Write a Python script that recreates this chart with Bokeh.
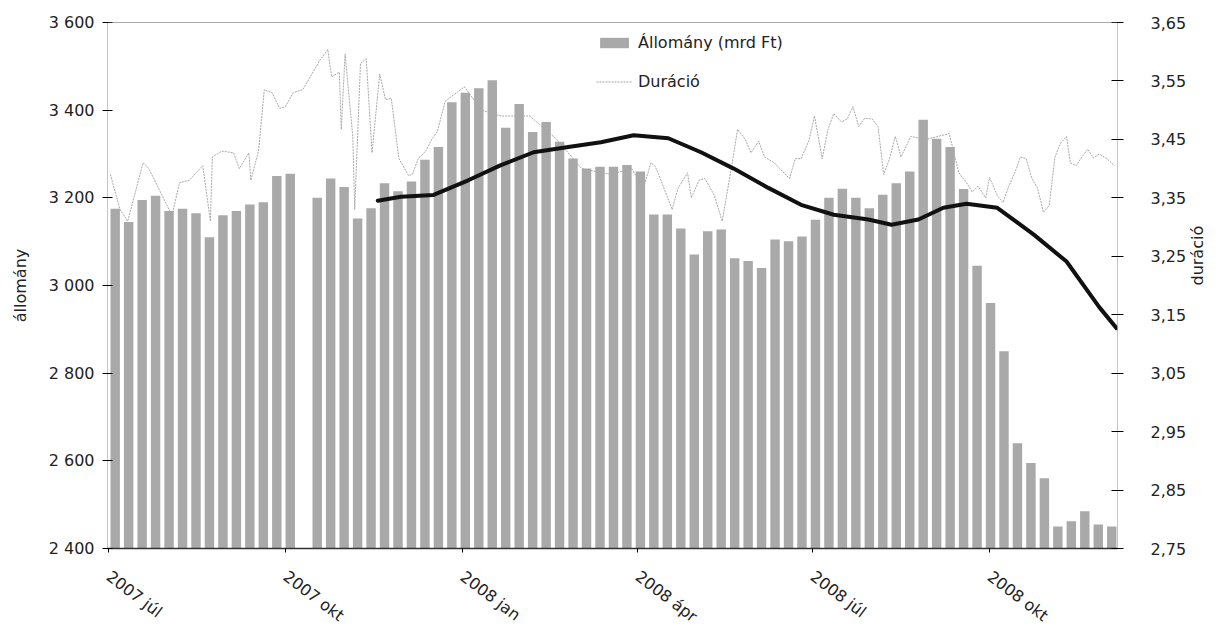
import math
import pandas as pd
from bokeh.plotting import figure
from bokeh.models import (Range1d, LinearAxis, FixedTicker, Legend, LegendItem,
                          ColumnDataSource, Span)
from bokeh.embed import file_html
from bokeh.resources import INLINE

# ---------------- data ----------------
origin = pd.Timestamp("2007-07-01")

week_first_day = "2007-07-02"      # Monday of the first weekly block
n_weeks = 75
allomany = [3175, 3145, 3195, 3205, 3170, 3175, 3165, 3110, 3160, 3170,
            3185, 3190, 3250, 3255, None, 3200, 3244, 3225, 3153, 3176,
            3233, 3215, 3237, 3287, 3316, 3418, 3440, 3450, 3468, 3360,
            3414, 3350, 3373, 3328, 3290, 3267, 3271, 3271, 3275, 3260,
            3162, 3162, 3130, 3071, 3124, 3128, 3062, 3056, 3040, 3105,
            3101, 3112, 3150, 3200, 3221, 3200, 3176, 3207, 3233, 3260,
            3378, 3335, 3316, 3220, 3045, 2960, 2850, 2640, 2595, 2560,
            2450, 2462, 2485, 2455, 2450]

dur_dates = ["2007-07-02", "2007-07-07", "2007-07-11", "2007-07-15", "2007-07-19",
             "2007-07-22", "2007-07-28", "2007-08-03", "2007-08-07", "2007-08-12",
             "2007-08-19", "2007-08-23", "2007-08-24", "2007-08-29", "2007-09-04",
             "2007-09-07", "2007-09-12", "2007-09-13", "2007-09-17", "2007-09-20",
             "2007-09-24", "2007-09-28", "2007-10-01", "2007-10-05", "2007-10-10",
             "2007-10-19", "2007-10-23", "2007-10-25", "2007-10-29", "2007-10-30",
             "2007-11-01", "2007-11-05", "2007-11-06", "2007-11-09", "2007-11-12",
             "2007-11-15", "2007-11-19", "2007-11-22", "2007-11-25", "2007-11-29",
             "2007-12-04", "2007-12-06", "2007-12-09", "2007-12-13", "2007-12-16",
             "2007-12-19", "2007-12-23", "2008-01-02", "2008-01-11", "2008-01-21",
             "2008-02-05", "2008-02-19", "2008-03-03", "2008-03-18", "2008-03-29",
             "2008-04-04", "2008-04-08", "2008-04-10", "2008-04-12", "2008-04-19",
             "2008-04-22", "2008-04-27", "2008-04-29", "2008-05-03", "2008-05-06",
             "2008-05-11", "2008-05-15", "2008-05-20", "2008-05-23", "2008-05-27",
             "2008-05-30", "2008-06-03", "2008-06-06", "2008-06-11", "2008-06-14",
             "2008-06-19", "2008-06-22", "2008-06-25", "2008-06-29", "2008-07-02",
             "2008-07-06", "2008-07-09", "2008-07-12", "2008-07-16", "2008-07-19",
             "2008-07-22", "2008-07-25", "2008-07-28", "2008-08-01", "2008-08-04",
             "2008-08-07", "2008-08-10", "2008-08-13", "2008-08-16", "2008-08-21",
             "2008-08-29", "2008-09-10", "2008-09-15", "2008-09-19", "2008-09-22",
             "2008-09-25", "2008-09-29", "2008-10-01", "2008-10-05", "2008-10-08",
             "2008-10-11", "2008-10-15", "2008-10-17", "2008-10-20", "2008-10-23",
             "2008-10-26", "2008-10-29", "2008-11-01", "2008-11-04", "2008-11-07",
             "2008-11-10", "2008-11-12", "2008-11-15", "2008-11-18", "2008-11-21",
             "2008-11-24", "2008-11-27", "2008-12-01", "2008-12-05"]
dur_vals = [3.39, 3.33, 3.31, 3.36, 3.41,
            3.40, 3.36, 3.32, 3.376, 3.38,
            3.405, 3.31, 3.42, 3.43, 3.427,
            3.40, 3.427, 3.38, 3.43, 3.535,
            3.53, 3.503, 3.506, 3.53, 3.535,
            3.586, 3.604, 3.557, 3.565, 3.467,
            3.596, 3.455, 3.33, 3.58, 3.588,
            3.427, 3.562, 3.518, 3.52, 3.417,
            3.388, 3.39, 3.417, 3.43, 3.45,
            3.464, 3.515, 3.54, 3.50, 3.49,
            3.49, 3.45, 3.40, 3.39, 3.40,
            3.366, 3.41, 3.405, 3.39, 3.33,
            3.366, 3.393, 3.35, 3.38, 3.383,
            3.354, 3.31, 3.405, 3.467, 3.45,
            3.427, 3.447, 3.42, 3.41, 3.40,
            3.383, 3.417, 3.417, 3.447, 3.49,
            3.417, 3.467, 3.494, 3.48, 3.485,
            3.506, 3.472, 3.486, 3.485, 3.472,
            3.39, 3.417, 3.455, 3.42, 3.455,
            3.45, 3.46, 3.393, 3.376, 3.36,
            3.37, 3.35, 3.385, 3.354, 3.342,
            3.37, 3.40, 3.42, 3.417, 3.383,
            3.366, 3.325, 3.337, 3.42, 3.444,
            3.455, 3.41, 3.405, 3.42, 3.433,
            3.418, 3.425, 3.417, 3.405]

trend_dates = ["2007-11-18", "2007-11-30", "2007-12-17", "2008-01-04", "2008-01-21",
               "2008-02-07", "2008-02-25", "2008-03-13", "2008-03-30", "2008-04-17",
               "2008-05-04", "2008-05-21", "2008-06-08", "2008-06-25", "2008-07-12",
               "2008-07-30", "2008-08-11", "2008-08-25", "2008-09-07", "2008-09-19",
               "2008-10-05", "2008-10-24", "2008-11-10", "2008-11-27", "2008-12-06"]
trend_vals = [3.345, 3.352, 3.355, 3.38, 3.406,
              3.428, 3.437, 3.445, 3.457, 3.452,
              3.428, 3.40, 3.367, 3.338, 3.321,
              3.313, 3.304, 3.313, 3.333, 3.34,
              3.333, 3.287, 3.241, 3.163, 3.127]

x_tick_dates = ["2007-07-01", "2007-10-01", "2008-01-01", "2008-04-01",
                "2008-07-01", "2008-10-01"]
x_tick_labels = ["2007 júl", "2007 okt", "2008 jan", "2008 ápr", "2008 júl", "2008 okt"]
left_ticks = [2400, 2600, 2800, 3000, 3200, 3400, 3600]
left_labels = ["2 400", "2 600", "2 800", "3 000", "3 200", "3 400", "3 600"]
right_ticks = [2.75, 2.85, 2.95, 3.05, 3.15, 3.25, 3.35, 3.45, 3.55, 3.65]
right_labels = ["2,75", "2,85", "2,95", "3,05", "3,15", "3,25", "3,35", "3,45", "3,55", "3,65"]
left_title = "állomány"
right_title = "duráció"

# ---------------- helpers ----------------
def days(d):
    return (pd.to_datetime(d) - origin) / pd.Timedelta(days=1)

weeks = pd.date_range(week_first_day, periods=n_weeks, freq="7D")
bar_x, bar_top = [], []
for w, v in zip(weeks, allomany):
    if v is not None:
        bar_x.append(days(w) + 2.5)
        bar_top.append(v)
bars_src = ColumnDataSource(dict(x=bar_x, top=bar_top))
dur_src = ColumnDataSource(dict(x=list(days(dur_dates)), y=dur_vals))
trend_src = ColumnDataSource(dict(x=list(days(trend_dates)), y=trend_vals))

FONT = "DejaVu Sans"
TXT = "#222222"

W, H = 1219, 636
FL, FT, FR, FB = 107, 22, 1121, 553      # frame edges on the page
p = figure(width=W, height=H, output_backend="svg", toolbar_location=None,
           x_range=Range1d(-0.5, 524.5), y_range=Range1d(2400, 3600),
           min_border_left=FL, min_border_right=W - FR, min_border_top=FT,
           min_border_bottom=H - FB)
p.extra_y_ranges = {"dur": Range1d(2.75, 3.65)}
p.xgrid.visible = False
p.ygrid.visible = False
p.outline_line_color = None
p.background_fill_color = "white"
p.border_fill_color = "white"

bars = p.vbar(x="x", top="top", bottom=2400, width=4.9, source=bars_src,
              fill_color="#a9a9a9", line_color=None)
dur = p.line("x", "y", source=dur_src, y_range_name="dur",
             line_color="#a8a8a8", line_width=1, line_dash="2 1")
p.line("x", "y", source=trend_src, y_range_name="dur",
       line_color="#111111", line_width=4, line_join="round", line_cap="round")

p.add_layout(Span(location=3600, dimension="width", line_color="#555555", line_width=1.2))

# x axis
xa = p.xaxis[0]
xt = [int(v) for v in days(x_tick_dates)]
xa.ticker = FixedTicker(ticks=xt)
xa.major_label_overrides = {t: l for t, l in zip(xt, x_tick_labels)}
xa.major_label_orientation = -0.65
xa.minor_tick_line_color = None
xa.major_tick_in = 0
xa.major_tick_out = 4
xa.axis_line_color = "#333333"
xa.axis_line_width = 1.5
xa.major_label_text_font = FONT
xa.major_label_text_font_size = "16px"
xa.major_label_text_color = TXT
xa.major_label_standoff = 22

# left axis
ya = p.yaxis[0]
ya.ticker = FixedTicker(ticks=left_ticks)
ya.major_label_overrides = {t: l for t, l in zip(left_ticks, left_labels)}
ya.minor_tick_line_color = None
ya.major_tick_in = 5
ya.major_tick_out = 5
ya.axis_line_color = "#888888"
ya.axis_line_dash = "1 1"
ya.major_label_text_font = FONT
ya.major_label_text_font_size = "16px"
ya.major_label_text_color = TXT
ya.major_label_standoff = 8
ya.axis_label = left_title
ya.axis_label_text_font = FONT
ya.axis_label_text_font_size = "16px"
ya.axis_label_text_font_style = "normal"
ya.axis_label_text_color = TXT
ya.axis_label_standoff = 16

# right axis
ra = LinearAxis(y_range_name="dur", ticker=FixedTicker(ticks=right_ticks))
ra.major_label_overrides = {t: l for t, l in zip(right_ticks, right_labels)}
ra.minor_tick_line_color = None
ra.major_tick_in = 6
ra.major_tick_out = 6
ra.axis_line_color = "#888888"
ra.axis_line_dash = "1 1"
ra.major_label_text_font = FONT
ra.major_label_text_font_size = "16px"
ra.major_label_text_color = TXT
ra.major_label_standoff = 27
ra.axis_label = right_title
ra.axis_label_text_font = FONT
ra.axis_label_text_font_size = "16px"
ra.axis_label_text_font_style = "normal"
ra.axis_label_text_color = TXT
ra.axis_label_standoff = 8
try:
    ra.axis_label_orientation = math.pi / 2   # read bottom-to-top like the original
except Exception:
    pass
p.add_layout(ra, "right")

legend = Legend(items=[LegendItem(label="Állomány (mrd Ft)", renderers=[bars]),
                       LegendItem(label="Duráció", renderers=[dur])],
                location=(489, 457), orientation="vertical",
                label_text_font=FONT, label_text_font_size="16px", label_text_color=TXT,
                glyph_width=36, glyph_height=13, label_standoff=6, spacing=20,
                padding=4, margin=0, border_line_color=None, background_fill_alpha=0)
p.add_layout(legend, "center")

open("out.html", "w").write(file_html(p, INLINE))
